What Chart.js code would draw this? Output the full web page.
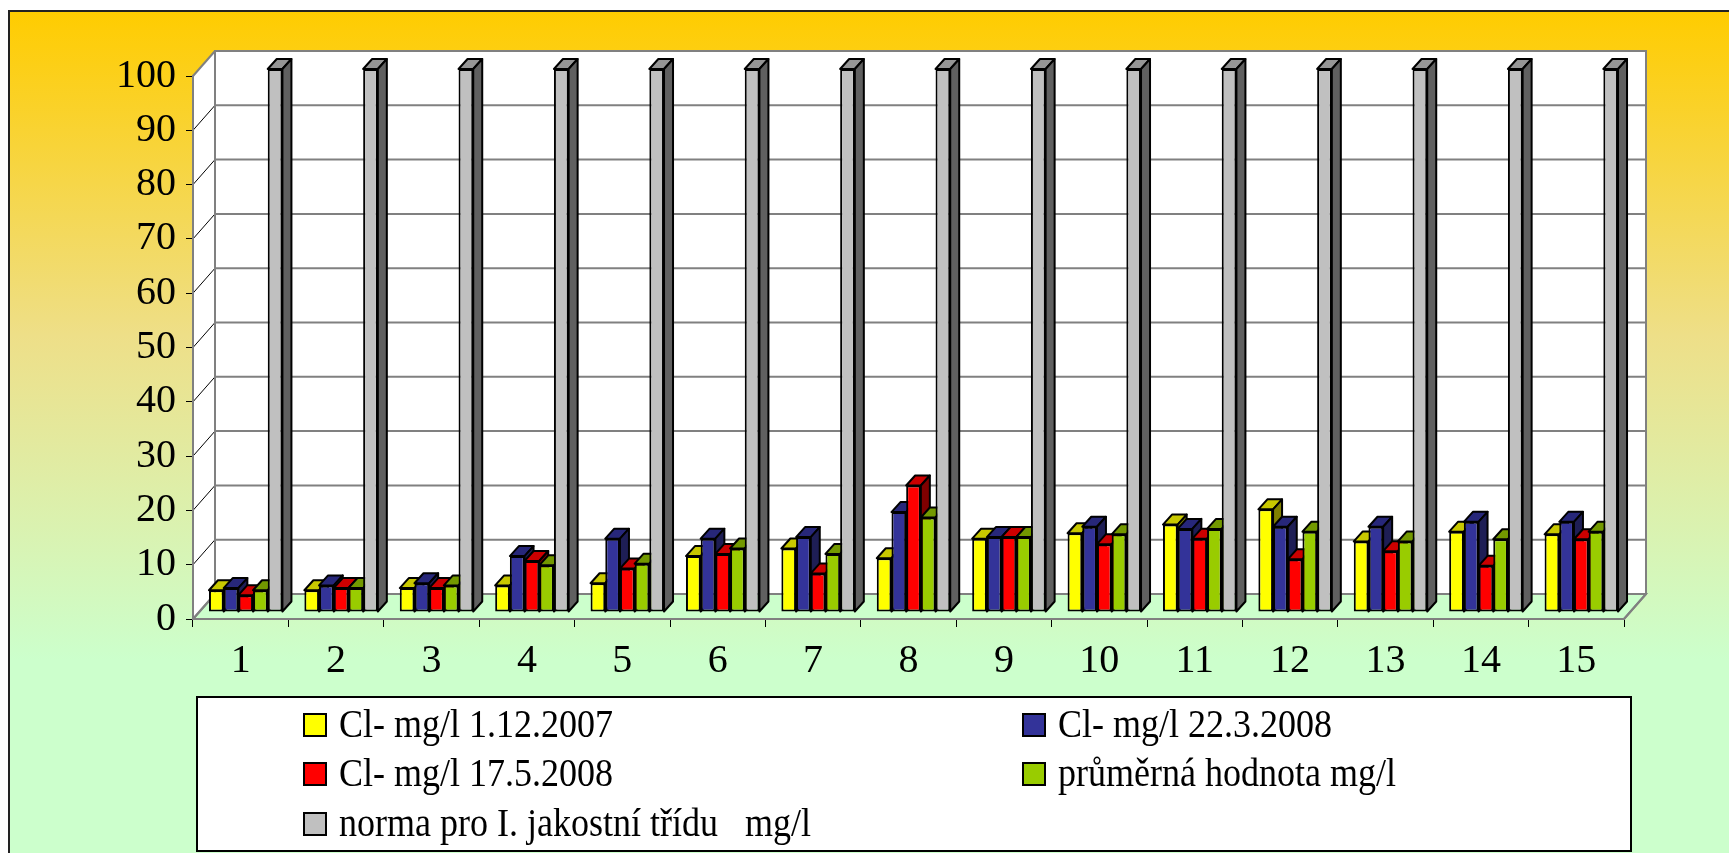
<!DOCTYPE html>
<html>
<head>
<meta charset="utf-8">
<title>Cl- mg/l</title>
<script src="https://cdn.jsdelivr.net/npm/chart.js@4"></script>
<style>
    html, body { margin: 0; padding: 0; background: #ffffff; }
    #chart { display: block; }
</style>
</head>
<body>
<canvas id="chart" width="1729" height="853"></canvas>
<script>
// Chart data
const categories = ['1', '2', '3', '4', '5', '6', '7', '8', '9', '10', '11', '12', '13', '14', '15'];
const seriesLabels = [
    'Cl- mg/l 1.12.2007',
    'Cl- mg/l 22.3.2008',
    'Cl- mg/l 17.5.2008',
    'průměrná hodnota mg/l',
    'norma pro I. jakostní třídu   mg/l'
];
const cl_2007_12_01 = [4.0, 4.0, 4.4, 4.9, 5.3, 10.3, 11.7, 9.9, 13.5, 14.5, 16.1, 18.9, 13.0, 14.8, 14.3];
const cl_2008_03_22 = [4.4, 4.9, 5.3, 10.3, 13.5, 13.5, 13.8, 18.4, 13.8, 15.7, 15.3, 15.7, 15.7, 16.6, 16.6];
const cl_2008_05_17 = [3.1, 4.4, 4.4, 9.4, 8.0, 10.7, 7.1, 23.3, 13.8, 12.5, 13.5, 9.7, 11.2, 8.5, 13.4];
const averageValues = [4.0, 4.4, 4.9, 8.6, 8.9, 11.7, 10.7, 17.4, 13.8, 14.3, 15.3, 14.8, 13.0, 13.4, 14.8];
const normValues    = [100, 100, 100, 100, 100, 100, 100, 100, 100, 100, 100, 100, 100, 100, 100];
const yMin = 0;
const yMax = 100;
const yStep = 10;

// Styles
const frontColors = ['#ffff00', '#333399', '#ff0000', '#99cc00', '#c0c0c0'];
const topColors   = ['#c8c800', '#27277a', '#cc0000', '#739900', '#969696'];
const sideColors  = ['#808000', '#1e1e55', '#800000', '#4d6600', '#606060'];
const FONT = '"Liberation Serif", "Times New Roman", serif';

// 3D geometry: wall depth and bar depth in pixels
const WALL_DX = 22, WALL_DY = 25;
const BAR_SHIFT_X = 5, BAR_SHIFT_Y = -7;
const BAR_DX = 9, BAR_DY = 10;

const seriesValues = [cl_2007_12_01, cl_2008_03_22, cl_2008_05_17, averageValues, normValues];

function drawBarFaces(ctx, meta, i) {
    ctx.save();
    ctx.strokeStyle = '#000000';
    ctx.lineWidth = 2;
    ctx.lineJoin = 'round';
    meta.data.forEach(bar => {
        const p = bar.getProps(['x', 'y', 'base', 'width'], true);
        const l = p.x - p.width / 2;
        const r = p.x + p.width / 2;

        // top face
        ctx.fillStyle = topColors[i];
        ctx.beginPath();
        ctx.moveTo(l, p.y);
        ctx.lineTo(l + BAR_DX, p.y - BAR_DY);
        ctx.lineTo(r + BAR_DX, p.y - BAR_DY);
        ctx.lineTo(r, p.y);
        ctx.closePath();
        ctx.fill();
        ctx.stroke();

        // side face
        ctx.fillStyle = sideColors[i];
        ctx.beginPath();
        ctx.moveTo(r, p.y);
        ctx.lineTo(r + BAR_DX, p.y - BAR_DY);
        ctx.lineTo(r + BAR_DX, p.base - BAR_DY);
        ctx.lineTo(r, p.base);
        ctx.closePath();
        ctx.fill();
        ctx.stroke();
    });
    ctx.restore();
}

const threeDPlugin = {
    id: 'threeD',
    beforeDraw(chart) {
        const ctx = chart.ctx;
        const area = chart.chartArea;
        const yScale = chart.scales.y;

        // Page background and outer frame gradient
        ctx.save();
        ctx.fillStyle = '#ffffff';
        ctx.fillRect(0, 0, chart.width, chart.height);
        const grad = ctx.createLinearGradient(0, 11, 0, 660);
        grad.addColorStop(0, '#ffcc00');
        grad.addColorStop(0.5, '#eedf88');
        grad.addColorStop(1, '#ccffcc');
        ctx.fillStyle = grad;
        ctx.fillRect(9, 11, chart.width, chart.height);
        ctx.strokeStyle = '#222222';
        ctx.lineWidth = 2;
        ctx.strokeRect(9, 11, chart.width + 20, chart.height + 20);

        const top = area.top, bottom = area.bottom, left = area.left, right = area.right;

        // Left side wall
        ctx.fillStyle = '#ffffff';
        ctx.beginPath();
        ctx.moveTo(left, top);
        ctx.lineTo(left + WALL_DX, top - WALL_DY);
        ctx.lineTo(left + WALL_DX, bottom - WALL_DY);
        ctx.lineTo(left, bottom);
        ctx.closePath();
        ctx.fill();

        // Back wall
        ctx.fillRect(left + WALL_DX, top - WALL_DY, right - left, bottom - top);

        // Floor
        ctx.fillStyle = '#ccffcc';
        ctx.beginPath();
        ctx.moveTo(left, bottom);
        ctx.lineTo(left + WALL_DX, bottom - WALL_DY);
        ctx.lineTo(right + WALL_DX, bottom - WALL_DY);
        ctx.lineTo(right, bottom);
        ctx.closePath();
        ctx.fill();
        ctx.strokeStyle = '#808080';
        ctx.lineWidth = 2;
        ctx.stroke();

        // Back wall gridlines and side wall diagonals
        for (let v = yMin; v <= yMax; v += yStep) {
            const y = yScale.getPixelForValue(v);
            ctx.strokeStyle = '#808080';
            ctx.lineWidth = 2;
            ctx.beginPath();
            ctx.moveTo(left + WALL_DX, y - WALL_DY);
            ctx.lineTo(right + WALL_DX, y - WALL_DY);
            ctx.stroke();
            ctx.strokeStyle = (v === yMax || v === yMin) ? '#808080' : '#000000';
            ctx.lineWidth = (v === yMax || v === yMin) ? 2 : 1;
            ctx.beginPath();
            ctx.moveTo(left, y);
            ctx.lineTo(left + WALL_DX, y - WALL_DY);
            ctx.stroke();
        }

        // Back wall frame
        ctx.strokeStyle = '#808080';
        ctx.lineWidth = 2;
        ctx.strokeRect(left + WALL_DX, top - WALL_DY, right - left, bottom - top);
        ctx.beginPath();
        ctx.moveTo(right, bottom);
        ctx.lineTo(right + WALL_DX, bottom - WALL_DY);
        ctx.stroke();
        ctx.restore();
    },
    // skip the default pass, the bars are drawn below in series order
    beforeDatasetDraw() {
        return false;
    },
    afterDatasetsDraw(chart) {
        const ctx = chart.ctx;
        ctx.save();
        // Bars sit a little behind the front plane
        ctx.translate(BAR_SHIFT_X, BAR_SHIFT_Y);
        chart.data.datasets.forEach((ds, i) => {
            const meta = chart.getDatasetMeta(i);
            meta.controller.draw();
            drawBarFaces(ctx, meta, i);
        });
        ctx.restore();
    },
    afterDraw(chart) {
        // Legend box
        const ctx = chart.ctx;
        ctx.save();
        ctx.fillStyle = '#ffffff';
        ctx.fillRect(197, 697, 1434, 154);
        ctx.strokeStyle = '#000000';
        ctx.lineWidth = 2;
        ctx.strokeRect(197, 697, 1434, 154);

        const colX = [304, 1023];
        const rowY = [725, 774, 824];
        ctx.font = '40px ' + FONT;
        ctx.textBaseline = 'middle';
        ctx.textAlign = 'left';
        chart.data.datasets.forEach((ds, i) => {
            const x = colX[i % 2];
            const y = rowY[Math.floor(i / 2)];
            ctx.fillStyle = ds.backgroundColor;
            ctx.fillRect(x, y - 11, 22, 22);
            ctx.strokeStyle = '#000000';
            ctx.lineWidth = 2;
            ctx.strokeRect(x, y - 11, 22, 22);
            // legend text is a bit condensed in the original
            ctx.save();
            ctx.translate(x + 35, y + 1);
            ctx.scale(0.9, 1);
            ctx.fillStyle = '#000000';
            ctx.fillText(ds.label, 0, 0);
            ctx.restore();
        });
        ctx.restore();
    }
};

function buildDatasets() {
    return seriesValues.map((values, i) => ({
        label: seriesLabels[i],
        data: values,
        backgroundColor: frontColors[i],
        borderColor: '#000000',
        borderWidth: 2,
        borderSkipped: false,
        categoryPercentage: 0.77,
        barPercentage: 1.0,
        clip: false
    }));
}

function createChart() {
    const ctx = document.getElementById('chart').getContext('2d');
    new Chart(ctx, {
        type: 'bar',
        data: {
            labels: categories,
            datasets: buildDatasets()
        },
        options: {
            responsive: false,
            animation: false,
            layout: {
                padding: { top: 76, right: 105, left: 0, bottom: 0 }
            },
            scales: {
                x: {
                    grid: {
                        offset: true,
                        drawOnChartArea: false,
                        drawTicks: true,
                        tickLength: 8,
                        color: '#000000'
                    },
                    border: { color: '#808080', width: 2 },
                    ticks: {
                        color: '#000000',
                        font: { family: FONT, size: 40 },
                        padding: 10,
                        maxRotation: 0
                    },
                    afterFit(scale) { scale.height = 853 - 619; }
                },
                y: {
                    min: yMin,
                    max: yMax,
                    grid: {
                        drawOnChartArea: false,
                        drawTicks: true,
                        tickLength: 7,
                        color: '#000000'
                    },
                    border: { color: '#808080', width: 2 },
                    ticks: {
                        stepSize: yStep,
                        color: '#000000',
                        font: { family: FONT, size: 40 },
                        padding: 10
                    },
                    afterFit(scale) { scale.width = 193; }
                }
            },
            plugins: {
                legend: { display: false },
                tooltip: { enabled: false }
            }
        },
        plugins: [threeDPlugin]
    });
}

createChart();
</script>
</body>
</html>
